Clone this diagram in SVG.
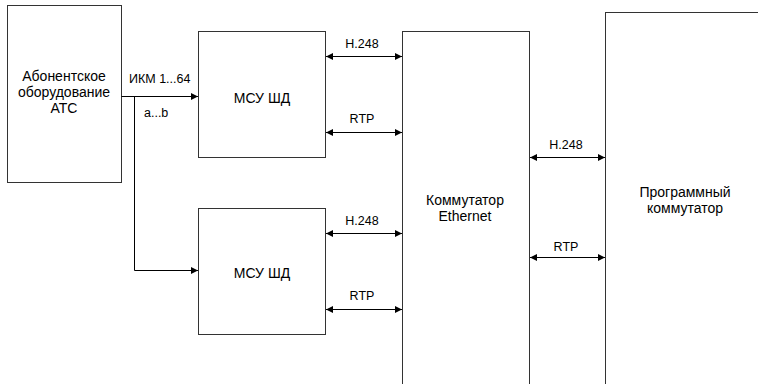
<svg xmlns="http://www.w3.org/2000/svg" width="758" height="384" viewBox="0 0 758 384">
<defs>
<marker id="ah" viewBox="0 0 10 10" refX="10" refY="5" markerWidth="8" markerHeight="7" markerUnits="userSpaceOnUse" orient="auto-start-reverse">
<path d="M0,0 L10,5 L0,10 z" fill="#000"/>
</marker>
<style>
.box{fill:#fff;stroke:#333;stroke-width:1}
.ln{fill:none;stroke:#000;stroke-width:1}
text{font-family:"Liberation Sans",Arial,sans-serif;font-size:14px;fill:#000;text-anchor:middle}
.lab{font-size:12.5px}
.l{text-anchor:start}
</style>
</defs>
<rect width="758" height="384" fill="#fff"/>
<g id="ats">
<rect class="box" x="7.5" y="5.5" width="114" height="177"/>
<text x="64" y="81">Абонентское</text>
<text x="64" y="97">оборудование</text>
<text x="64" y="113">АТС</text>
</g>
<g id="msu1">
<rect class="box" x="198.5" y="31.5" width="127" height="126"/>
<text x="262" y="103">МСУ ШД</text>
</g>
<g id="msu2">
<rect class="box" x="198.5" y="208.5" width="127" height="126"/>
<text x="262" y="278">МСУ ШД</text>
</g>
<g id="eth">
<rect class="box" x="402.5" y="31.5" width="127" height="360"/>
<text x="465" y="205">Коммутатор</text>
<text x="465" y="221">Ethernet</text>
</g>
<g id="soft">
<rect class="box" x="605.5" y="12.5" width="160" height="380"/>
<text x="685" y="197">Программный</text>
<text x="685" y="213">коммутатор</text>
</g>
<g id="connectors">
<path class="ln" d="M121.5,96.5 H198" marker-end="url(#ah)"/>
<path class="ln" d="M134.5,96.5 V270.5 H198" marker-end="url(#ah)"/>
<path class="ln" d="M326,56.5 H402" marker-start="url(#ah)" marker-end="url(#ah)"/>
<path class="ln" d="M326,132.5 H402" marker-start="url(#ah)" marker-end="url(#ah)"/>
<path class="ln" d="M326,233.5 H402" marker-start="url(#ah)" marker-end="url(#ah)"/>
<path class="ln" d="M326,309.5 H402" marker-start="url(#ah)" marker-end="url(#ah)"/>
<path class="ln" d="M530,157.5 H605" marker-start="url(#ah)" marker-end="url(#ah)"/>
<path class="ln" d="M530,257.5 H605" marker-start="url(#ah)" marker-end="url(#ah)"/>
<text class="lab l" x="129" y="83">ИКМ 1...64</text>
<text class="lab l" x="144" y="117">a...b</text>
<text class="lab" x="362" y="48">H.248</text>
<text class="lab" x="362" y="123">RTP</text>
<text class="lab" x="362" y="225">H.248</text>
<text class="lab" x="362" y="300">RTP</text>
<text class="lab" x="566" y="149">H.248</text>
<text class="lab" x="566" y="251">RTP</text>
</g>
</svg>
